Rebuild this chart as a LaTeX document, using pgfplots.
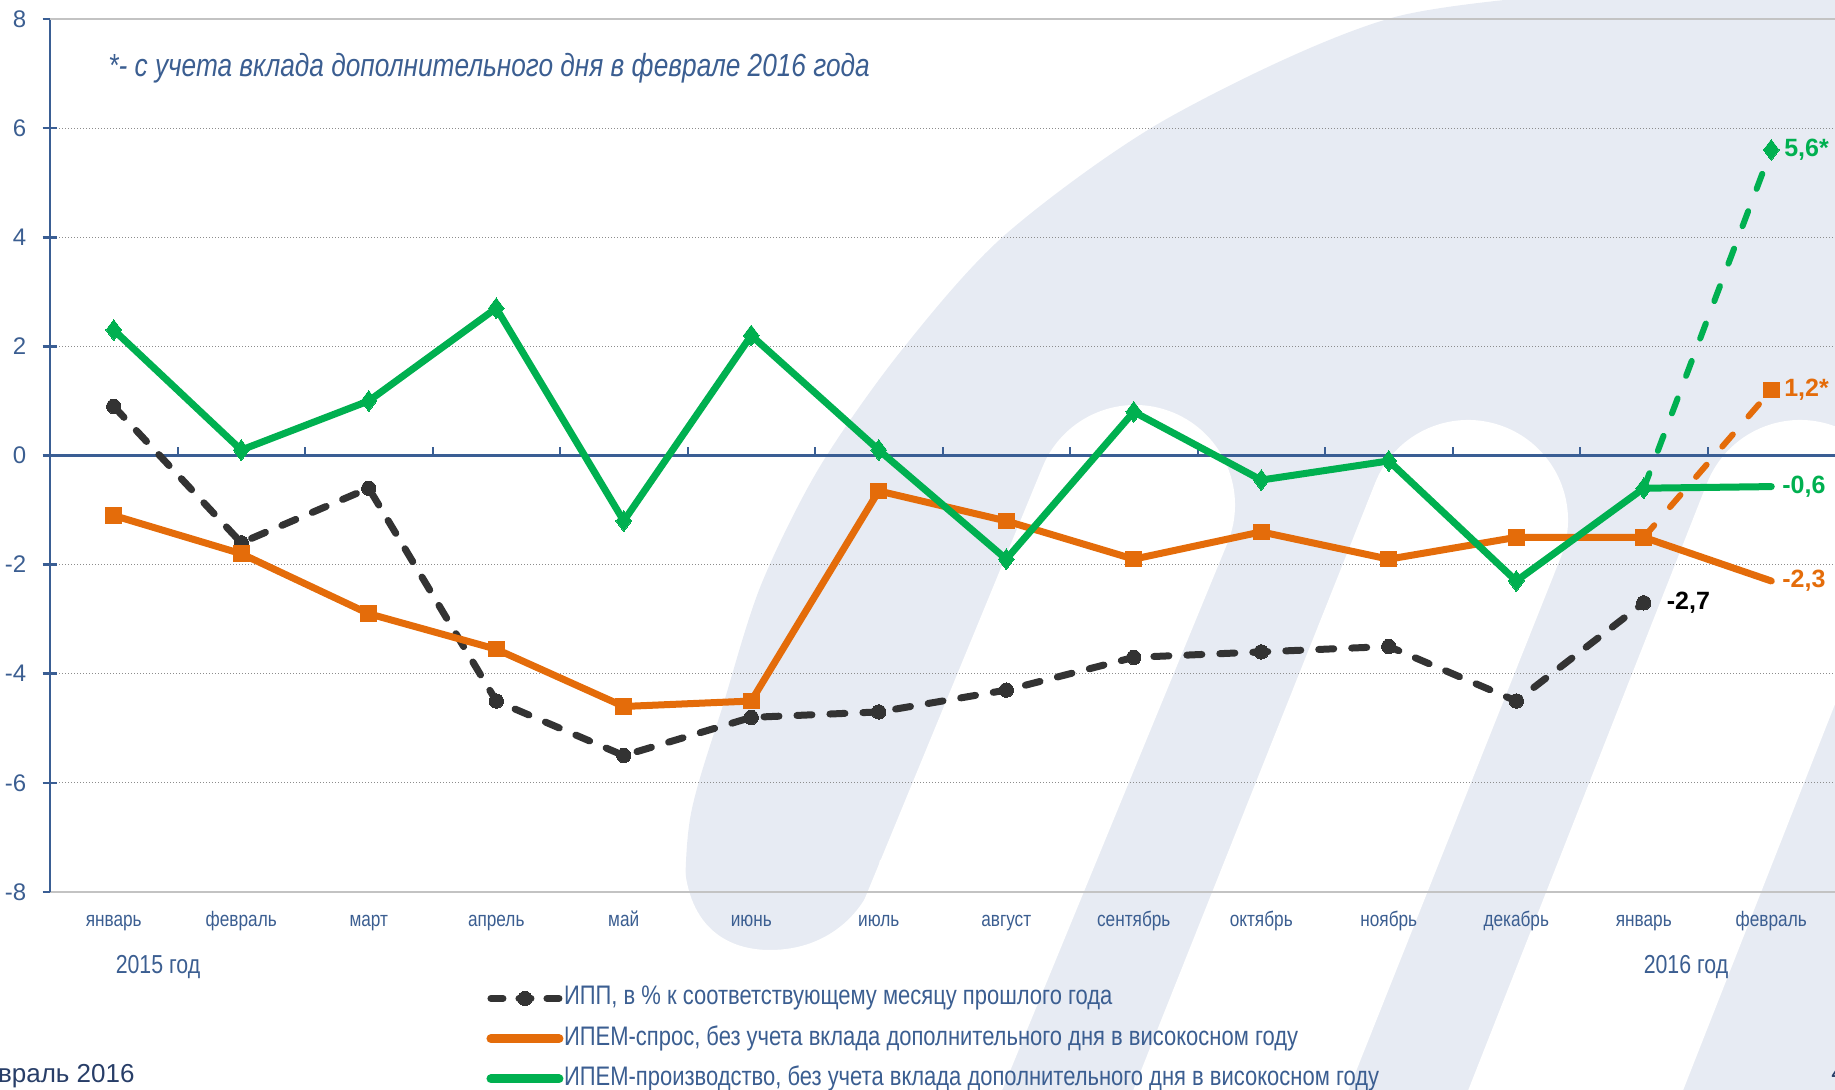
\documentclass[border=0pt]{standalone}
\usepackage{pgfplots}
\pgfplotsset{compat=1.18}
\usepackage{fontspec}
\setmainfont{Liberation Sans}[FakeStretch=0.82]
\newfontfamily\lblfont{Liberation Sans}
\definecolor{tblue}{RGB}{59,94,145}
\definecolor{axblue}{RGB}{58,94,148}
\definecolor{cgreen}{RGB}{0,176,80}
\definecolor{corange}{RGB}{228,108,10}
\definecolor{cblack}{RGB}{51,51,51}
\definecolor{wm}{RGB}{231,235,243}
\definecolor{gridgray}{RGB}{140,140,140}
\definecolor{linegray}{RGB}{195,195,195}
\definecolor{navy}{RGB}{40,62,104}

\begin{document}
\begin{tikzpicture}
% ---- background watermark (light logo), pixel coordinates ----
\begin{scope}[shift={(0,545pt)},x=0.5pt,y=-0.5pt]
\fill[wm] plot[smooth] coordinates {(700,1095) (686,936) (690,819) (724,702) (761,585) (819,468) (901,351) (1006,234) (1170,117) (1395,17) (1650,-12)} -- (1845,-12) -- (1845,1095) -- cycle;
\draw[white, line width=100pt, line cap=round] (890,1100) -- (1135,505);
\draw[white, line width=100pt, line cap=round] (1225,1130) -- (1468,520);
\draw[white, line width=100pt, line cap=round] (1560,1130) -- (1800,520);
\fill[white] (600,1095) -- (600,860) -- (684,860) .. controls (688,930) and (730,950) .. (770,950) .. controls (830,950) and (870,910) .. (880,860) -- (950,860) -- (950,1095) -- cycle;
\end{scope}

% ---- background axis: grid, y axis, labels ----
\begin{axis}[
  at={(25pt,99pt)}, anchor=south west,
  scale only axis, width=892.5pt, height=436.5pt,
  xmin=-0.5, xmax=13.5, ymin=-8, ymax=8,
  axis lines*=left,
  x axis line style={linegray, line width=1.2pt},
  y axis line style={axblue, line width=1.3pt},
  xtick={0,...,13},
  xticklabels={январь,февраль,март,апрель,май,июнь,июль,август,сентябрь,октябрь,ноябрь,декабрь,январь,февраль},
  xtick style={draw=none},
  xticklabel style={font=\fontsize{10.5}{12}\selectfont, text=tblue, anchor=base, yshift=-13.5pt, inner sep=0pt},
  ytick={-8,-6,-4,-2,0,2,4,6,8},
  yticklabels={-8,-6,-4,-2,0,2,4,6,8},
  ytick style={axblue, line width=1.3pt},
  major tick length=7.5pt, tick align=center,
  yticklabel style={font=\lblfont\fontsize{12}{14}\selectfont, text=tblue, anchor=east, inner sep=0pt, xshift=-8pt},
  ymajorgrids,
  major grid style={gridgray, line width=0.6pt, dash pattern=on 0.6pt off 0.9pt},
  clip=false,
]
\draw[linegray, line width=1.2pt] (rel axis cs:0,1) -- (rel axis cs:1,1);
\end{axis}

% ---- foreground axis: zero line, series, legend ----
\begin{axis}[
  at={(25pt,99pt)}, anchor=south west,
  scale only axis, width=892.5pt, height=436.5pt,
  xmin=-0.5, xmax=13.5, ymin=-8, ymax=8,
  axis x line*=middle, axis y line=none,
  x axis line style={axblue, line width=1.3pt},
  xtick={0.5,1.5,...,12.5}, xticklabels={},
  xtick style={axblue, line width=1pt},
  major tick length=4pt, xtick align=inside,
  ytick=\empty,
  clip=false,
  legend style={draw=none, fill=none, at={(axis description cs:0.2443,-0.168)}, anchor=west,
    font=\fontsize{13.4}{15}\selectfont, text=tblue, inner sep=0pt, row sep=7pt,
    nodes={inner sep=0.3pt, text height=9.5pt, text depth=3pt}},
  legend cell align=left,
  legend image code/.code={\draw[mark repeat=2, mark phase=2, #1] plot coordinates {(0pt,0pt) (17pt,0pt) (34pt,0pt)};},
]
% IPP
\addplot[forget plot, cblack, line width=3.5pt, dash pattern=on 7.5pt off 9pt, line cap=round,
  mark=*, mark size=3.6pt, mark options={solid, fill=cblack, draw=cblack, line width=0pt}]
  coordinates {(0,0.9) (1,-1.6) (2,-0.6) (3,-4.5) (4,-5.5) (5,-4.8) (6,-4.7) (7,-4.3) (8,-3.7) (9,-3.6) (10,-3.5) (11,-4.5) (12,-2.7)};
% IPEM demand
\addplot[forget plot, corange, line width=3pt, dash pattern=on 8pt off 12pt, line cap=round,
  mark=square*, mark size=3.9pt, mark options={solid, fill=corange, draw=corange, line width=0pt}, mark indices={2}]
  coordinates {(12,-1.5) (13,1.2)};
\addplot[forget plot, corange, line width=3.5pt, line cap=round, line join=round,
  mark=square*, mark size=3.9pt, mark options={solid, fill=corange, draw=corange, line width=0pt}, mark indices={1,...,13}]
  coordinates {(0,-1.1) (1,-1.8) (2,-2.9) (3,-3.55) (4,-4.6) (5,-4.5) (6,-0.65) (7,-1.2) (8,-1.9) (9,-1.4) (10,-1.9) (11,-1.5) (12,-1.5) (13,-2.3)};
% IPEM production
\addplot[forget plot, cgreen, line width=3pt, dash pattern=on 8pt off 12pt, line cap=round,
  mark=diamond*, mark size=5.2pt, mark options={solid, fill=cgreen, draw=cgreen, line width=0pt}, mark indices={2}]
  coordinates {(12,-0.6) (13,5.6)};
\addplot[forget plot, cgreen, line width=3.5pt, line cap=round, line join=round,
  mark=diamond*, mark size=5.2pt, mark options={solid, fill=cgreen, draw=cgreen, line width=0pt}, mark indices={1,...,13}]
  coordinates {(0,2.3) (1,0.1) (2,1.0) (3,2.7) (4,-1.2) (5,2.2) (6,0.1) (7,-1.9) (8,0.8) (9,-0.45) (10,-0.1) (11,-2.3) (12,-0.6) (13,-0.57)};

\addlegendimage{cblack, line width=3.5pt, dash pattern=on 6pt off 8pt, line cap=round, mark=*, mark size=3.6pt, mark options={solid, fill=cblack, draw=cblack, line width=0pt}}
\addlegendimage{corange, line width=4.5pt, line cap=round}
\addlegendimage{cgreen, line width=4.5pt, line cap=round}
\legend{ИПП{,} в \% к соответствующему месяцу прошлого года,
        ИПЕМ-спрос{,} без учета вклада дополнительного дня в високосном году,
        ИПЕМ-производство{,} без учета вклада дополнительного дня в високосном году}

\node[anchor=west, text=cgreen, font=\lblfont\bfseries\fontsize{12.5}{14}\selectfont, xshift=3pt] at (axis cs:13,5.6) {5,6*};
\node[anchor=west, text=corange, font=\lblfont\bfseries\fontsize{12.5}{14}\selectfont, xshift=3pt] at (axis cs:13,1.2) {1,2*};
\node[anchor=west, text=cgreen, font=\lblfont\bfseries\fontsize{12.5}{14}\selectfont, xshift=2pt] at (axis cs:13,-0.57) {-0,6};
\node[anchor=west, text=corange, font=\lblfont\bfseries\fontsize{12.5}{14}\selectfont, xshift=2pt] at (axis cs:13,-2.3) {-2,3};
\node[anchor=west, text=black, font=\lblfont\bfseries\fontsize{12.5}{14}\selectfont, xshift=8pt] at (axis cs:12,-2.7) {-2,7};
\end{axis}

% ---- free texts ----
\node[anchor=base west, text=tblue, font=\itshape\fontsize{16}{18}\selectfont, inner sep=0pt] at (54pt,506.5pt) {*- с учета вклада дополнительного дня в феврале 2016 года};
\node[anchor=base, text=tblue, font=\fontsize{13}{15}\selectfont, inner sep=0pt] at (79pt,58pt) {2015 год};
\node[anchor=base, text=tblue, font=\fontsize{13}{15}\selectfont, inner sep=0pt] at (843pt,58pt) {2016 год};
\node[anchor=base east, text=navy, font=\lblfont\fontsize{13}{15}\selectfont, inner sep=0pt] at (67.5pt,3.5pt) {Февраль 2016};
\node[anchor=base west, text=navy, font=\lblfont\fontsize{13}{15}\selectfont, inner sep=0pt] at (915.5pt,4pt) {4};

\pgfresetboundingbox
\path[use as bounding box] (0,0) rectangle (917.5pt,545pt);
\end{tikzpicture}
\end{document}
